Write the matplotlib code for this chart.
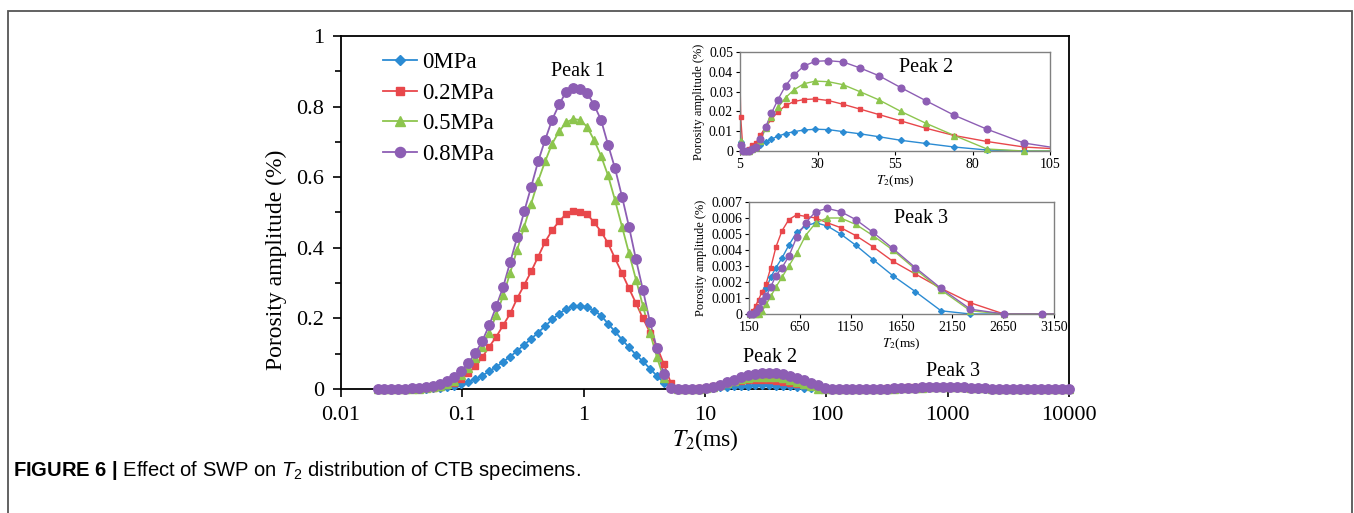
import numpy as np
import matplotlib
matplotlib.use("Agg")
import matplotlib.pyplot as plt
from matplotlib.patches import Rectangle
from matplotlib.ticker import FixedLocator, MultipleLocator

plt.rcParams['font.family'] = 'Liberation Serif'
plt.rcParams['mathtext.fontset'] = 'custom'
plt.rcParams['mathtext.rm'] = 'Liberation Sans'
plt.rcParams['mathtext.it'] = 'Liberation Sans:italic'
plt.rcParams['mathtext.bf'] = 'Liberation Sans:bold'

# T2 bins (ms)
T2 = [0.0200, 0.02283, 0.02607, 0.02977, 0.03398, 0.03880, 0.04430, 0.05058, 0.05775, 0.06593,
      0.07528, 0.08595, 0.09813, 0.1120, 0.1279, 0.1461, 0.1668, 0.1904, 0.2174, 0.2482,
      0.2834, 0.3236, 0.3694, 0.4218, 0.4816, 0.5499, 0.6278, 0.7168, 0.8184, 0.9343,
      1.067, 1.218, 1.391, 1.588, 1.813, 2.070, 2.363, 2.698, 3.081, 3.517,
      4.016, 4.585, 5.235, 5.977, 6.824, 7.791, 8.896, 10.15, 11.59, 13.24,
      15.11, 17.26, 19.70, 22.49, 25.68, 29.32, 33.48, 38.22, 43.64, 49.83,
      56.89, 64.96, 74.17, 84.68, 96.68, 110.4, 126.0, 143.9, 164.3, 187.6,
      214.2, 244.5, 279.2, 318.8, 364.0, 415.6, 474.5, 541.8, 618.5, 706.2,
      806.3, 920.6, 1051, 1200, 1370, 1564, 1786, 2039, 2328, 2658,
      3035, 3465, 3956, 4517, 5157, 5888, 6723, 7676, 8764, 10000]

amp_0 = [0, 0, 0, 0, 0, 0, 0, 0.001, 0.002, 0.003,
         0.005, 0.008, 0.013, 0.02, 0.028, 0.038, 0.05, 0.063, 0.077, 0.092,
         0.108, 0.125, 0.142, 0.16, 0.178, 0.197, 0.213, 0.227, 0.235, 0.236,
         0.232, 0.222, 0.208, 0.185, 0.163, 0.14, 0.118, 0.097, 0.078, 0.058,
         0.037, 0.018, 0.0045, 0, 0, 0, 0.001, 0.0025, 0.003, 0.0045,
         0.006, 0.0075, 0.0088, 0.0098, 0.0106, 0.011, 0.0108, 0.0098, 0.0087, 0.0072,
         0.0054, 0.0038, 0.002, 0.0005, 0, 0, 0, 0, 0, 0,
         0, 0.0003, 0.0008, 0.0016, 0.0023, 0.0029, 0.0035, 0.0043, 0.0051, 0.0055,
         0.0057, 0.0055, 0.005, 0.0043, 0.0034, 0.0024, 0.0014, 0.0002, 0, 0,
         0, 0, 0, 0, 0, 0, 0, 0, 0, 0]

amp_02 = [0, 0, 0, 0, 0, 0, 0.001, 0.002, 0.004, 0.007,
          0.011, 0.018, 0.028, 0.045, 0.065, 0.09, 0.12, 0.148, 0.181, 0.214,
          0.257, 0.295, 0.333, 0.375, 0.417, 0.45, 0.475, 0.496, 0.504, 0.502,
          0.496, 0.472, 0.446, 0.413, 0.37, 0.328, 0.285, 0.243, 0.2, 0.16,
          0.12, 0.07, 0.017, 0, 0, 0.001, 0.003, 0.004, 0.008, 0.012,
          0.016, 0.0198, 0.023, 0.025, 0.026, 0.0263, 0.0255, 0.0236, 0.0212, 0.0184,
          0.0152, 0.0115, 0.0078, 0.0048, 0.002, 0.0008, 0, 0, 0, 0.0002,
          0.0005, 0.0009, 0.0014, 0.0019, 0.0029, 0.0042, 0.0052, 0.0059, 0.0062, 0.0061,
          0.006, 0.0057, 0.0054, 0.0049, 0.0042, 0.0033, 0.0025, 0.0016, 0.0007, 0,
          0, 0, 0, 0, 0, 0, 0, 0, 0, 0]

amp_05 = [0, 0, 0, 0, 0, 0, 0.001, 0.002, 0.005, 0.008,
          0.014, 0.022, 0.04, 0.06, 0.087, 0.12, 0.16, 0.21, 0.265, 0.33,
          0.395, 0.46, 0.525, 0.59, 0.645, 0.695, 0.73, 0.755, 0.765, 0.762,
          0.743, 0.705, 0.66, 0.605, 0.535, 0.46, 0.385, 0.31, 0.235, 0.16,
          0.09, 0.03, 0.005, 0, 0, 0, 0.001, 0.002, 0.005, 0.0115,
          0.017, 0.022, 0.027, 0.031, 0.034, 0.0353, 0.035, 0.0335, 0.03, 0.0258,
          0.02, 0.014, 0.0078, 0.001, 0, 0, 0, 0, 0, 0,
          0, 0, 0.0002, 0.0006, 0.0011, 0.0017, 0.0023, 0.003, 0.0038, 0.0049,
          0.0057, 0.006, 0.006, 0.0056, 0.0049, 0.004, 0.0028, 0.0015, 0.0002, 0,
          0, 0, 0, 0, 0, 0, 0, 0, 0, 0]

amp_08 = [0, 0, 0, 0, 0.001, 0.002, 0.003, 0.005, 0.009, 0.014,
          0.022, 0.034, 0.052, 0.074, 0.101, 0.136, 0.181, 0.234, 0.29, 0.36,
          0.43, 0.503, 0.573, 0.645, 0.706, 0.763, 0.806, 0.842, 0.852, 0.851,
          0.838, 0.805, 0.762, 0.692, 0.625, 0.545, 0.46, 0.367, 0.28, 0.19,
          0.115, 0.042, 0.003, 0, 0, 0, 0.001, 0.002, 0.006, 0.012,
          0.019, 0.026, 0.033, 0.0385, 0.043, 0.0453, 0.0456, 0.045, 0.042, 0.038,
          0.032, 0.0254, 0.018, 0.011, 0.004, 0.0007, 0, 0, 0, 0,
          0.0001, 0.0004, 0.0008, 0.0011, 0.0017, 0.0024, 0.0029, 0.0036, 0.0048, 0.0057,
          0.0064, 0.0066, 0.0064, 0.0059, 0.0051, 0.0041, 0.0029, 0.0016, 0.0003, 0,
          0, 0, 0, 0, 0, 0, 0, 0, 0, 0]

labels = ['0MPa', '0.2MPa', '0.5MPa', '0.8MPa']
series = [amp_0, amp_02, amp_05, amp_08]
colors = ['#2b8bd3', '#e8474b', '#8dc54e', '#8d5eb4']
markers = ['D', 's', '^', 'o']

x = np.array(T2)


def draw(ax, xlim, ylim, sizes, lw, with_labels=False):
    for y, lab, c, m, ms in zip(series, labels, colors, markers, sizes):
        y = np.array(y)
        ax.plot(x, y, color=c, lw=lw, zorder=2)
        keep = (x >= xlim[0]) & (x <= xlim[1]) & (y >= ylim[0]) & (y <= ylim[1])
        ax.plot(x[keep], y[keep], ls='none', marker=m, ms=ms, color=c,
                mec=c, clip_on=False, zorder=3)
        if with_labels:
            ax.plot([], [], color=c, lw=lw, marker=m, ms=ms + 0.5, label=lab)
    ax.set_xlim(*xlim)
    ax.set_ylim(*ylim)


fig = plt.figure(figsize=(13.54, 5.13), dpi=100)

# main chart
ax = fig.add_axes([341 / 1354, 1 - 389 / 513, 728 / 1354, 353 / 513])
ax.set_xscale('log')
draw(ax, (0.01, 10000), (0, 1), [4.2, 5.0, 6.0, 6.8], 1.3, with_labels=True)
ax.xaxis.set_major_locator(FixedLocator([0.01, 0.1, 1, 10, 100, 1000, 10000]))
ax.set_xticklabels(['0.01', '0.1', '1', '10', '100', '1000', '10000'])
ax.xaxis.set_minor_locator(FixedLocator([]))
ax.set_yticks([0, 0.2, 0.4, 0.6, 0.8, 1.0])
ax.set_yticklabels(['0', '0.2', '0.4', '0.6', '0.8', '1'])
ax.yaxis.set_minor_locator(MultipleLocator(0.1))
ax.tick_params(axis='both', which='major', direction='out', length=6, width=1.2,
               labelsize=16, pad=6)
ax.tick_params(axis='y', which='minor', direction='out', length=4, width=1.2)
for s in ax.spines.values():
    s.set_linewidth(1.3)
ax.set_ylabel('Porosity amplitude (%)', fontsize=17)
ax.yaxis.set_label_coords(-0.074, 0.365)
ax.set_xlabel(r'$T_2$(ms)', fontsize=17, math_fontfamily='stix', labelpad=2)
ax.legend(loc='upper left', bbox_to_anchor=(0.0577, 0.955), frameon=False, fontsize=16.5,
          handlelength=1.5, handletextpad=0.2, labelspacing=0.42, borderaxespad=0,
          borderpad=0)
ax.text(0.325, 0.9, 'Peak 1', transform=ax.transAxes, ha='center', va='center', fontsize=14.5)
ax.text(0.59, 0.09, 'Peak 2', transform=ax.transAxes, ha='center', va='center', fontsize=14.5)
ax.text(0.84, 0.05, 'Peak 3', transform=ax.transAxes, ha='center', va='center', fontsize=14.5)

# inset: peak 2
a1 = fig.add_axes([740 / 1354, 1 - 151 / 513, 310 / 1354, 99 / 513])
draw(a1, (5, 105), (0, 0.05), [3.0, 3.5, 4.2, 4.8], 1.0)
a1.set_xticks([5, 30, 55, 80, 105])
a1.set_yticks([0, 0.01, 0.02, 0.03, 0.04, 0.05])
a1.set_yticklabels(['0', '0.01', '0.02', '0.03', '0.04', '0.05'])
a1.set_ylabel('Porosity amplitude (%)', fontsize=9, labelpad=3)
a1.set_xlabel(r'$T_2$(ms)', fontsize=9.5, math_fontfamily='stix', labelpad=2)
a1.text(0.60, 0.84, 'Peak 2', transform=a1.transAxes, ha='center', va='center', fontsize=14.5)

# inset: peak 3
a2 = fig.add_axes([749 / 1354, 1 - 314 / 513, 305 / 1354, 112 / 513])
draw(a2, (150, 3150), (0, 0.007), [3.0, 3.5, 4.2, 4.8], 1.0)
a2.set_xticks([150, 650, 1150, 1650, 2150, 2650, 3150])
a2.set_yticks([0, 0.001, 0.002, 0.003, 0.004, 0.005, 0.006, 0.007])
a2.set_yticklabels(['0', '0.001', '0.002', '0.003', '0.004', '0.005', '0.006', '0.007'])
a2.set_ylabel('Porosity amplitude (%)', fontsize=9, labelpad=3)
a2.set_xlabel(r'$T_2$(ms)', fontsize=9.5, math_fontfamily='stix', labelpad=2)
a2.text(0.565, 0.85, 'Peak 3', transform=a2.transAxes, ha='center', va='center', fontsize=14.5)

for a in (a1, a2):
    a.tick_params(axis='both', direction='out', length=3, width=0.8, labelsize=10, pad=2)
    for s in a.spines.values():
        s.set_color('#808080')
        s.set_linewidth(1.0)

# figure frame and caption
fig.add_artist(Rectangle((8 / 1354, -0.05), 1344 / 1354, 1.05 - 11 / 513, fill=False,
                         edgecolor='#555555', lw=1.3, transform=fig.transFigure))
fig.text(13 / 1354, 1 - 470 / 513,
         r'$\mathbf{FIGURE\ 6\ |}$ Effect of SWP on $\mathit{T}_2$ distribution of CTB specimens.',
         family='Liberation Sans', fontsize=14.5, va='center', ha='left', math_fontfamily='custom')

fig.savefig('out.png', dpi=100)
